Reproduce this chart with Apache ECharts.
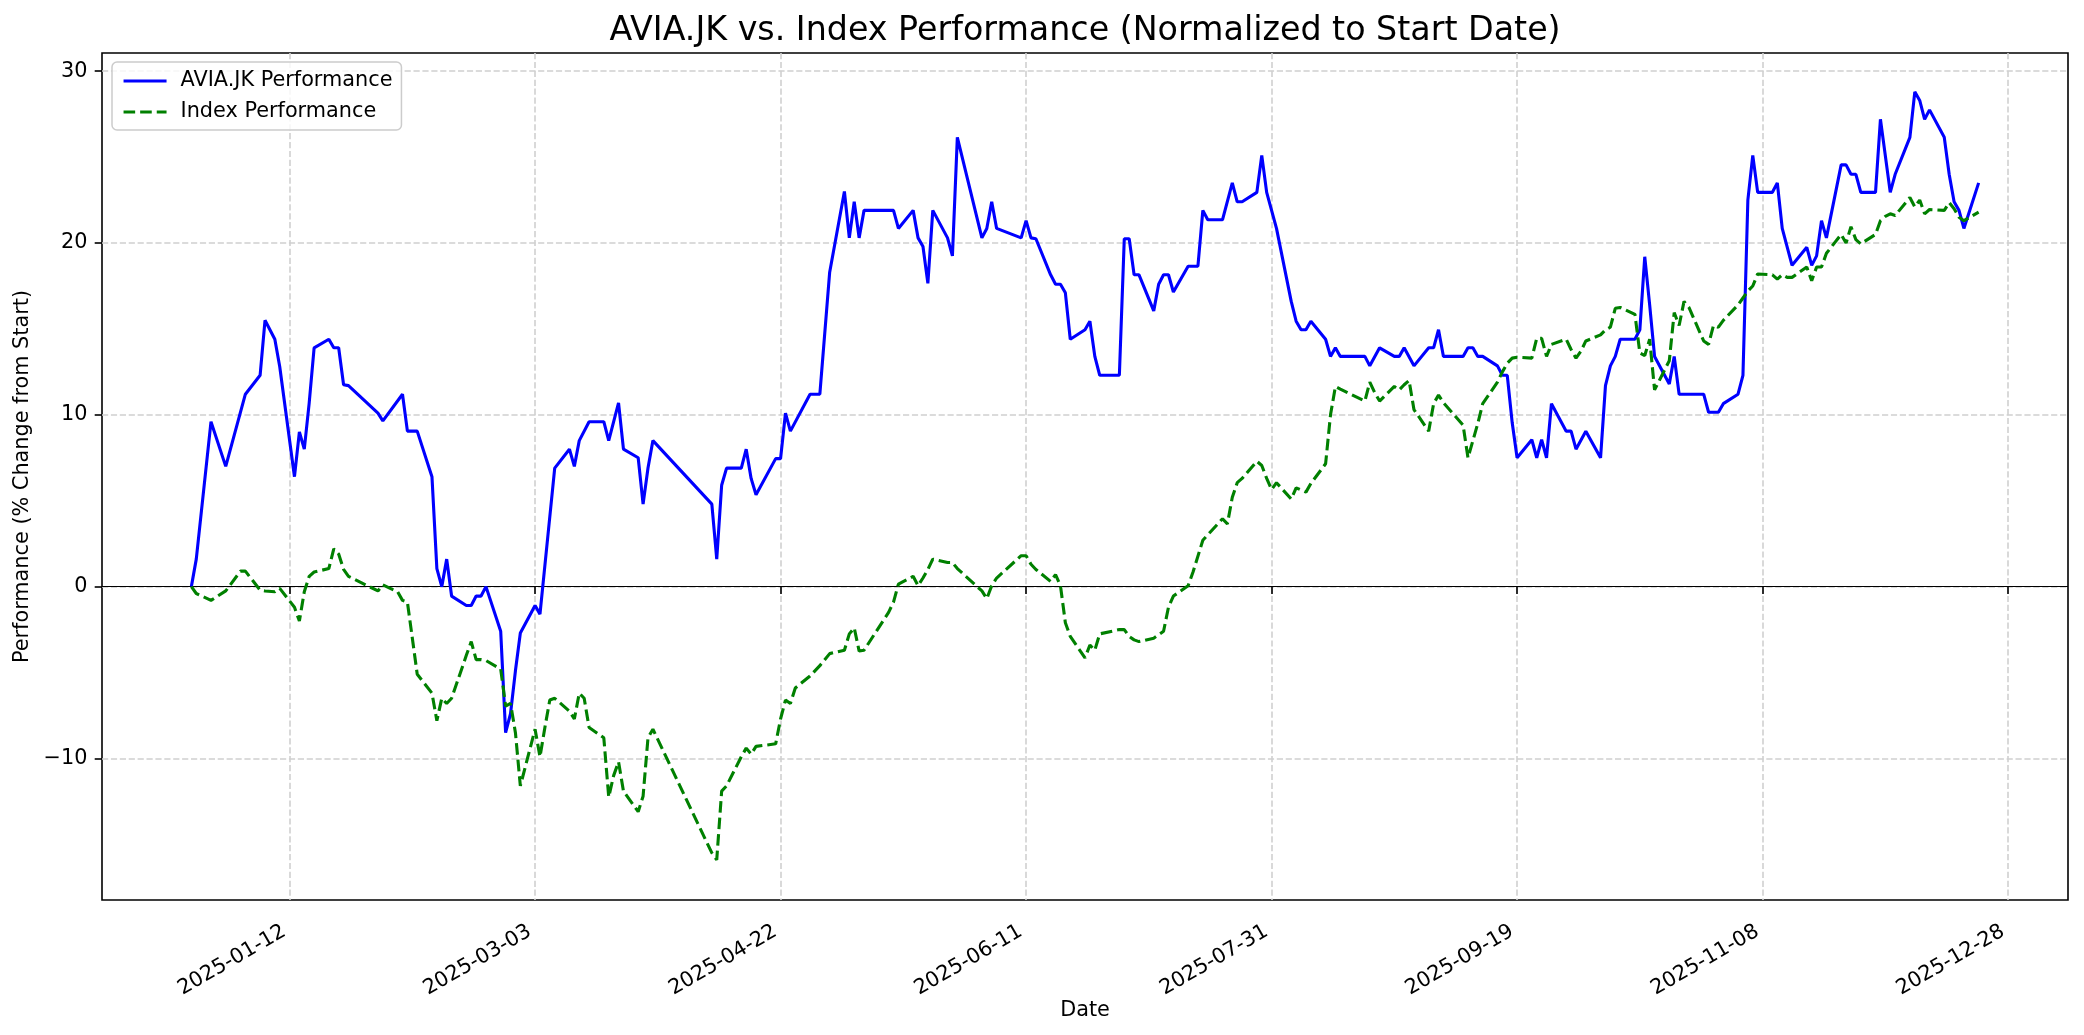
<!DOCTYPE html>
<html>
<head>
<meta charset="utf-8">
<script src="https://cdn.jsdelivr.net/npm/echarts@6/dist/echarts.min.js"></script>
<style>
html,body{margin:0;padding:0;background:#ffffff;}
#chart{width:2084px;height:1035px;}
</style>
</head>
<body>
<div id="chart"></div>
<script>
// ---- Data ----
const aviaDates = [
'2024-12-23','2024-12-24','2024-12-27','2024-12-30','2025-01-03','2025-01-06','2025-01-07','2025-01-09','2025-01-10',
'2025-01-13','2025-01-14','2025-01-15','2025-01-16','2025-01-17','2025-01-20','2025-01-21','2025-01-22','2025-01-23','2025-01-24',
'2025-01-30','2025-01-31','2025-02-04','2025-02-05','2025-02-07','2025-02-10','2025-02-11','2025-02-12','2025-02-13','2025-02-14',
'2025-02-17','2025-02-18','2025-02-19','2025-02-20','2025-02-21','2025-02-24','2025-02-25','2025-02-26','2025-02-27','2025-02-28',
'2025-03-03','2025-03-04','2025-03-07','2025-03-10','2025-03-11','2025-03-12','2025-03-14','2025-03-17','2025-03-18','2025-03-20',
'2025-03-21','2025-03-24','2025-03-25','2025-03-26','2025-03-27','2025-04-08','2025-04-09','2025-04-10','2025-04-11','2025-04-14',
'2025-04-15','2025-04-16','2025-04-17','2025-04-21','2025-04-22','2025-04-23','2025-04-24','2025-04-28','2025-04-30','2025-05-02',
'2025-05-05','2025-05-06','2025-05-07','2025-05-08','2025-05-09','2025-05-15','2025-05-16','2025-05-19','2025-05-20','2025-05-21',
'2025-05-22','2025-05-23','2025-05-26','2025-05-27','2025-05-28','2025-06-02','2025-06-03','2025-06-04','2025-06-05','2025-06-10',
'2025-06-11','2025-06-12','2025-06-13','2025-06-16','2025-06-17','2025-06-18','2025-06-19','2025-06-20','2025-06-23','2025-06-24',
'2025-06-25','2025-06-26','2025-06-30','2025-07-01','2025-07-02','2025-07-03','2025-07-04','2025-07-07','2025-07-08','2025-07-09',
'2025-07-10','2025-07-11','2025-07-14','2025-07-16','2025-07-17','2025-07-18','2025-07-21','2025-07-23','2025-07-24','2025-07-25',
'2025-07-28','2025-07-29','2025-07-30','2025-08-01','2025-08-04','2025-08-05','2025-08-06','2025-08-07','2025-08-08','2025-08-11',
'2025-08-12','2025-08-13','2025-08-14','2025-08-19','2025-08-20','2025-08-22','2025-08-25','2025-08-26','2025-08-27','2025-08-29',
'2025-09-01','2025-09-02','2025-09-03','2025-09-04','2025-09-08','2025-09-09','2025-09-10','2025-09-11','2025-09-12','2025-09-15',
'2025-09-16','2025-09-17','2025-09-18','2025-09-19','2025-09-22','2025-09-23','2025-09-24','2025-09-25','2025-09-26','2025-09-29',
'2025-09-30','2025-10-01','2025-10-03','2025-10-06','2025-10-07','2025-10-08','2025-10-09','2025-10-10','2025-10-13','2025-10-14',
'2025-10-15','2025-10-16','2025-10-17','2025-10-20','2025-10-21','2025-10-22','2025-10-27','2025-10-28','2025-10-30','2025-10-31',
'2025-11-03','2025-11-04','2025-11-05','2025-11-06','2025-11-07','2025-11-10','2025-11-11','2025-11-12','2025-11-14','2025-11-17',
'2025-11-18','2025-11-19','2025-11-20','2025-11-21','2025-11-24','2025-11-25','2025-11-26','2025-11-27','2025-11-28','2025-12-01',
'2025-12-02','2025-12-04','2025-12-05','2025-12-08','2025-12-09','2025-12-10','2025-12-11','2025-12-12','2025-12-15','2025-12-16',
'2025-12-17','2025-12-18','2025-12-19','2025-12-22'
];
const aviaValues = [
0,1.6,9.6,7.0,11.2,12.3,15.5,14.4,12.8,
6.4,9.0,8.0,10.7,13.9,14.4,13.9,13.9,11.75,11.7,
10.1,9.65,11.2,9.05,9.05,6.4,1.05,0,1.6,-0.55,
-1.1,-1.1,-0.55,-0.55,0,-2.6,-8.5,-7.4,-4.9,-2.7,
-1.1,-1.6,6.9,8.0,7.0,8.5,9.6,9.6,8.5,10.7,
8.0,7.5,4.8,6.9,8.5,4.8,1.6,5.9,6.9,6.9,
8.0,6.3,5.35,7.45,7.45,10.1,9.05,11.2,11.2,18.3,
23.0,20.3,22.4,20.3,21.9,21.9,20.85,21.9,20.3,19.8,
17.65,21.9,20.3,19.25,26.15,20.3,20.85,22.4,20.85,20.3,
21.3,20.3,20.25,18.15,17.6,17.6,17.1,14.4,14.95,15.45,
13.4,12.3,12.3,20.25,20.25,18.15,18.15,16.05,17.6,18.15,
18.15,17.15,18.65,18.65,21.9,21.35,21.35,23.5,22.4,22.4,
22.95,25.1,22.95,20.85,16.6,15.45,14.95,14.95,15.45,14.4,
13.4,13.9,13.4,13.4,12.85,13.9,13.4,13.4,13.9,12.85,
13.9,13.9,14.95,13.4,13.4,13.9,13.9,13.4,13.4,12.85,
12.3,12.3,9.55,7.5,8.55,7.5,8.55,7.5,10.65,9.05,
9.05,8.0,9.05,7.5,11.7,12.85,13.4,14.4,14.4,14.95,
19.2,16.4,13.4,11.8,13.4,11.2,11.2,10.15,10.15,10.65,
11.2,12.3,22.5,25.1,22.95,22.95,23.5,20.85,18.7,19.75,
18.7,19.25,21.3,20.3,24.55,24.55,24.0,24.0,22.95,22.95,
27.2,22.95,24.0,26.15,28.8,28.3,27.2,27.75,26.15,24.0,
22.4,21.9,20.85,23.5
];
const indexDates = [
'2024-12-23','2024-12-24','2024-12-27','2024-12-30','2025-01-02','2025-01-03','2025-01-06','2025-01-07','2025-01-09','2025-01-10',
'2025-01-13','2025-01-14','2025-01-15','2025-01-16','2025-01-17','2025-01-20','2025-01-21','2025-01-22','2025-01-23','2025-01-24',
'2025-01-30','2025-01-31','2025-02-03','2025-02-04','2025-02-05','2025-02-07','2025-02-10','2025-02-11','2025-02-12','2025-02-13',
'2025-02-14','2025-02-17','2025-02-18','2025-02-19','2025-02-20','2025-02-21','2025-02-24','2025-02-25','2025-02-26','2025-02-27',
'2025-02-28','2025-03-03','2025-03-04','2025-03-05','2025-03-06','2025-03-07','2025-03-10','2025-03-11','2025-03-12','2025-03-13',
'2025-03-14','2025-03-17','2025-03-18','2025-03-19','2025-03-20','2025-03-21','2025-03-24','2025-03-25','2025-03-26','2025-03-27',
'2025-04-08','2025-04-09','2025-04-10','2025-04-11','2025-04-14','2025-04-15','2025-04-16','2025-04-17','2025-04-21','2025-04-22',
'2025-04-23','2025-04-24','2025-04-25','2025-04-28','2025-04-30','2025-05-02','2025-05-05','2025-05-06','2025-05-07','2025-05-08',
'2025-05-09','2025-05-14','2025-05-15','2025-05-16','2025-05-19','2025-05-20','2025-05-21','2025-05-22','2025-05-23','2025-05-26',
'2025-05-27','2025-05-28','2025-06-02','2025-06-03','2025-06-04','2025-06-05','2025-06-10','2025-06-11','2025-06-12','2025-06-13',
'2025-06-16','2025-06-17','2025-06-18','2025-06-19','2025-06-20','2025-06-23','2025-06-24','2025-06-25','2025-06-26','2025-06-30',
'2025-07-01','2025-07-02','2025-07-03','2025-07-04','2025-07-07','2025-07-08','2025-07-09','2025-07-10','2025-07-11','2025-07-14',
'2025-07-15','2025-07-17','2025-07-21','2025-07-22','2025-07-23','2025-07-24','2025-07-25','2025-07-28','2025-07-29','2025-07-30',
'2025-07-31','2025-08-01','2025-08-04','2025-08-05','2025-08-07','2025-08-08','2025-08-11','2025-08-12','2025-08-13','2025-08-14',
'2025-08-19','2025-08-20','2025-08-21','2025-08-22','2025-08-25','2025-08-26','2025-08-27','2025-08-28','2025-08-29','2025-09-01',
'2025-09-02','2025-09-03','2025-09-04','2025-09-08','2025-09-09','2025-09-10','2025-09-11','2025-09-12','2025-09-15','2025-09-16',
'2025-09-17','2025-09-18','2025-09-19','2025-09-22','2025-09-23','2025-09-24','2025-09-25','2025-09-26','2025-09-29','2025-09-30',
'2025-10-01','2025-10-02','2025-10-03','2025-10-06','2025-10-07','2025-10-08','2025-10-09','2025-10-10','2025-10-13','2025-10-14',
'2025-10-15','2025-10-16','2025-10-17','2025-10-20','2025-10-21','2025-10-22','2025-10-23','2025-10-24','2025-10-27','2025-10-28',
'2025-10-29','2025-10-30','2025-10-31','2025-11-03','2025-11-04','2025-11-05','2025-11-06','2025-11-07','2025-11-10','2025-11-11',
'2025-11-12','2025-11-13','2025-11-14','2025-11-17','2025-11-18','2025-11-19','2025-11-20','2025-11-21','2025-11-24','2025-11-25',
'2025-11-26','2025-11-27','2025-11-28','2025-12-01','2025-12-02','2025-12-03','2025-12-04','2025-12-05','2025-12-08','2025-12-09',
'2025-12-10','2025-12-11','2025-12-12','2025-12-15','2025-12-16','2025-12-17','2025-12-18','2025-12-19','2025-12-22'
];
const indexValues = [
0,-0.4,-0.8,-0.25,0.9,0.9,-0.2,-0.25,-0.3,-0.1,
-1.2,-2.0,-0.3,0.6,0.85,1.05,2.2,1.9,1.0,0.6,
-0.25,0.1,-0.3,-0.8,-0.9,-5.1,-6.2,-7.8,-6.5,-6.8,
-6.5,-4.0,-3.2,-4.25,-4.25,-4.3,-4.8,-6.95,-6.8,-8.5,
-11.6,-8.3,-9.9,-8.2,-6.6,-6.5,-7.25,-7.7,-6.2,-6.5,
-8.2,-8.8,-12.25,-11.0,-10.2,-11.9,-13.1,-12.2,-8.8,-8.3,
-15.5,-15.9,-11.9,-11.6,-9.9,-9.4,-9.75,-9.3,-9.15,-7.7,
-6.6,-6.8,-5.9,-5.2,-4.6,-3.9,-3.7,-2.75,-2.4,-3.75,
-3.7,-1.5,-0.9,0.15,0.6,0.05,0.5,1.0,1.6,1.4,
1.4,1.05,-0.25,-0.7,0.05,0.5,1.8,1.8,1.3,1.0,
0.3,0.7,0.05,-2.1,-2.9,-4.15,-3.4,-3.7,-2.75,-2.5,
-2.5,-2.9,-3.1,-3.2,-3.0,-2.8,-2.6,-1.2,-0.55,0.05,
0.85,2.7,3.95,3.65,5.2,6.05,6.3,7.3,7.05,6.3,
5.65,6.05,5.1,5.75,5.5,6.0,7.15,10.0,11.65,11.5,
10.8,11.9,11.3,10.8,11.65,11.45,11.75,12.0,10.3,9.05,
10.65,11.15,10.7,9.4,7.5,8.5,9.5,10.65,11.9,12.5,
13.0,13.3,13.35,13.3,14.45,14.45,13.4,14.1,14.4,13.8,
13.3,13.7,14.3,14.65,14.95,15.1,16.2,16.25,15.85,13.6,
13.45,14.4,11.45,13.15,15.95,15.2,16.6,16.25,14.3,14.1,
15.2,15.1,15.5,16.4,16.8,17.2,17.5,18.2,18.15,17.9,
18.15,18.0,18.0,18.6,17.8,18.6,18.6,19.4,20.5,20.0,
20.95,20.2,19.95,20.5,21.3,21.55,21.7,21.6,22.65,22.1,
22.5,21.7,21.95,21.9,22.35,22.0,21.5,21.3,21.8
];
const xTickLabels = ['2025-01-12','2025-03-03','2025-04-22','2025-06-11','2025-07-31','2025-09-19','2025-11-08','2025-12-28'];
const yTickValues = [-10, 0, 10, 20, 30];

// ---- helpers ----
function toTs(s){ const p = s.split('-').map(Number); return Date.UTC(p[0], p[1]-1, p[2]); }
function pad(n){ return (n < 10 ? '0' : '') + n; }
function fmtDate(v){ const d = new Date(v); return d.getUTCFullYear() + '-' + pad(d.getUTCMonth()+1) + '-' + pad(d.getUTCDate()); }

const aviaData = aviaDates.map((d, i) => [toTs(d), aviaValues[i]]);
const indexData = indexDates.map((d, i) => [toTs(d), indexValues[i]]);
const xTicks = xTickLabels.map(toTs);

const xMin = Date.UTC(2024, 11, 4, 19, 12);
const xMax = Date.UTC(2026, 0, 9, 4, 48);
const yMin = -18.24, yMax = 31.06;

const FONT = 'DejaVu Sans';
const chart = echarts.init(document.getElementById('chart'), null, {renderer: 'canvas'});
chart.setOption({
  animation: false,
  backgroundColor: '#ffffff',
  title: {
    text: 'AVIA.JK vs. Index Performance (Normalized to Start Date)',
    left: 1085, top: 15, textAlign: 'center', padding: 0,
    textStyle: {fontFamily: FONT, fontSize: 33.3, fontWeight: 'normal', color: '#000'}
  },
  legend: {
    orient: 'vertical', left: 112, top: 62,
    padding: [7, 9, 6, 10],
    itemWidth: 43, itemHeight: 14, itemGap: 7,
    backgroundColor: 'rgba(255,255,255,0.8)',
    borderColor: '#cccccc', borderWidth: 1.5, borderRadius: 5,
    itemStyle: {opacity: 0, color: 'transparent', borderWidth: 0},
    lineStyle: {width: 3.1},
    textStyle: {fontFamily: FONT, fontSize: 20.8, color: '#000', lineHeight: 24, padding: [0,0,0,9]},
    data: ['AVIA.JK Performance', 'Index Performance']
  },
  grid: {
    left: 102, right: 16, top: 53, bottom: 135,
    show: true, borderColor: '#000', borderWidth: 1.6, backgroundColor: 'transparent'
  },
  xAxis: {
    type: 'value', min: xMin, max: xMax, scale: true,
    name: 'Date', nameLocation: 'middle', nameGap: 100, nameMoveOverlap: false,
    nameTextStyle: {fontFamily: FONT, fontSize: 20.8, color: '#000'},
    axisLine: {show: false},
    axisTick: {show: true, customValues: xTicks, length: 7.3, lineStyle: {color: '#000', width: 1.6}},
    axisLabel: {customValues: xTicks, rotate: 30, margin: 27, padding: [0, 6, 0, 0],
      fontFamily: FONT, fontSize: 20.8, color: '#000',
      formatter: function(v){ return fmtDate(v); }},
    splitLine: {show: true, lineStyle: {color: '#d0d0d0', width: 1.6, type: [6.2, 2.7]}}
  },
  yAxis: {
    type: 'value', min: yMin, max: yMax,
    name: 'Performance (% Change from Start)', nameLocation: 'middle', nameGap: 68, nameRotate: 90,
    nameTextStyle: {fontFamily: FONT, fontSize: 20.8, color: '#000'},
    axisLine: {show: false},
    axisTick: {show: true, customValues: yTickValues, length: 7.3, lineStyle: {color: '#000', width: 1.6}},
    axisLabel: {customValues: yTickValues, margin: 14.6, fontFamily: FONT, fontSize: 20.8, color: '#000',
      formatter: function(v){ return String(v).replace('-', '\u2212'); }},
    splitLine: {show: true, lineStyle: {color: '#d0d0d0', width: 1.6, type: [6.2, 2.7]}}
  },
  series: [
    {
      name: 'AVIA.JK Performance', type: 'line', data: aviaData,
      symbol: 'none', showSymbol: false, z: 3,
      lineStyle: {color: '#0000ff', width: 3.1},
      itemStyle: {color: '#0000ff'},
      markLine: {
        silent: true, symbol: 'none', label: {show: false},
        lineStyle: {color: '#000', width: 1.2, type: 'solid'},
        data: [{yAxis: 0}], z: 2
      }
    },
    {
      name: 'Index Performance', type: 'line', data: indexData,
      symbol: 'none', showSymbol: false, z: 3,
      lineStyle: {color: '#008000', width: 3.1, type: [11.6, 5]},
      itemStyle: {color: '#008000'}
    }
  ]
});
</script>
</body>
</html>
